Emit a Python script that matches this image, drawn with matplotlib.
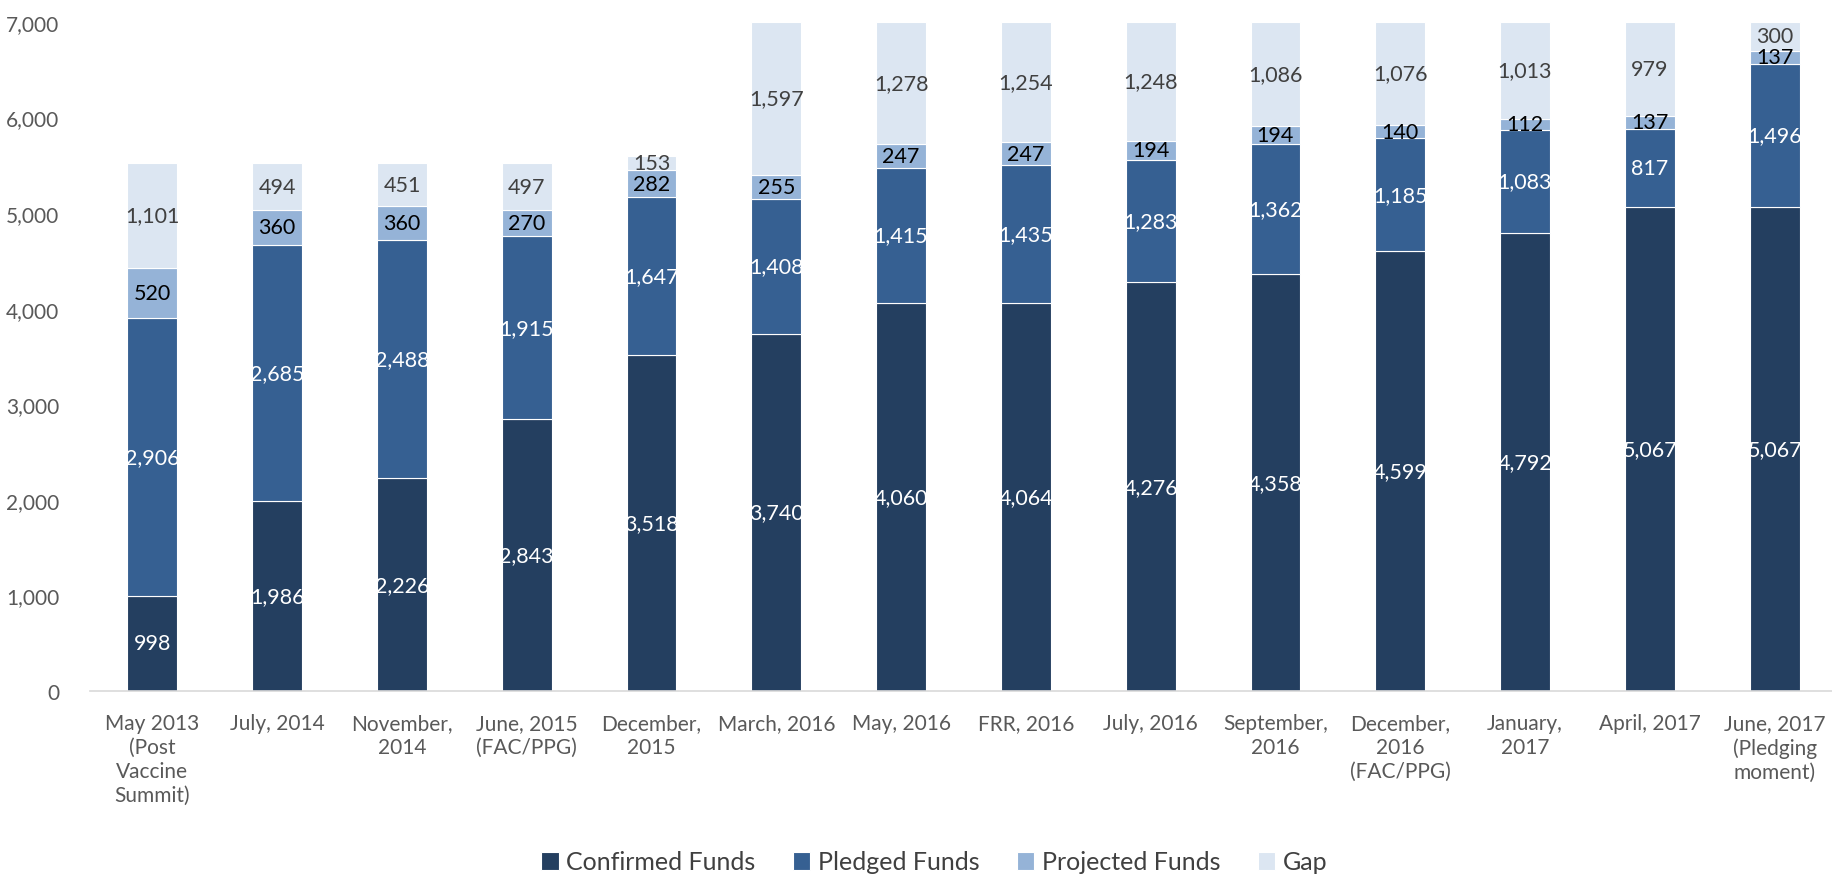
import matplotlib
matplotlib.use("Agg")
import matplotlib.pyplot as plt
import numpy as np

categories = [
    "May 2013\n(Post\nVaccine\nSummit)", "July, 2014", "November,\n2014", "June, 2015\n(FAC/PPG)",
    "December,\n2015", "March, 2016", "May, 2016", "FRR, 2016", "July, 2016", "September,\n2016",
    "December,\n2016\n(FAC/PPG)", "January,\n2017", "April, 2017", "June, 2017\n(Pledging\nmoment)",
]
confirmed = [998, 1986, 2226, 2843, 3518, 3740, 4060, 4064, 4276, 4358, 4599, 4792, 5067, 5067]
pledged = [2906, 2685, 2488, 1915, 1647, 1408, 1415, 1435, 1283, 1362, 1185, 1083, 817, 1496]
projected = [520, 360, 360, 270, 282, 255, 247, 247, 194, 194, 140, 112, 137, 137]
gap = [1101, 494, 451, 497, 153, 1597, 1278, 1254, 1248, 1086, 1076, 1013, 979, 300]

series = [
    ("Confirmed Funds", confirmed, "#243F60", "white"),
    ("Pledged Funds", pledged, "#366092", "white"),
    ("Projected Funds", projected, "#95B3D7", "black"),
    ("Gap", gap, "#DCE6F2", "#404040"),
]

plt.rcParams["font.family"] = ["Lato", "DejaVu Sans"]
fs = 15

fig = plt.figure(figsize=(18.32, 8.79), dpi=100)
ax = fig.add_axes([90 / 1832, 187 / 879, 1747 / 1832, 669 / 879])

x = np.arange(len(categories))
bottom = np.zeros(len(categories))
for name, vals, color, tcolor in series:
    vals = np.array(vals, dtype=float)
    bars = ax.bar(x, vals, width=0.4, bottom=bottom, color=color, label=name,
                  edgecolor="white", linewidth=0.8)
    ax.bar_label(bars, labels=[f"{v:,.0f}" for v in vals], label_type="center",
                 color=tcolor, fontsize=fs + 0.5)
    bottom += vals

ax.set_xlim(-0.5, len(categories) - 0.5)
ax.set_ylim(0, 7000)
ax.set_yticks(np.arange(0, 7001, 1000))
ax.yaxis.set_major_formatter(matplotlib.ticker.FuncFormatter(lambda v, p: f"{v:,.0f}"))
ax.set_xticks(x)
ax.set_xticklabels(categories, fontsize=fs, color="#595959", linespacing=1.25, va="top")
ax.tick_params(axis="y", length=0, labelsize=fs, labelcolor="#595959", pad=22)
ax.tick_params(axis="x", length=0, pad=16)
for s in ["top", "right", "left"]:
    ax.spines[s].set_visible(False)
ax.spines["bottom"].set_color("#D9D9D9")
ax.spines["bottom"].set_linewidth(1.2)

fig.legend(loc="center", bbox_to_anchor=(0.51, 16 / 879), ncol=4, frameon=False,
           fontsize=fs + 3, handlelength=0.7, handleheight=0.7, handletextpad=0.3,
           columnspacing=1.5, labelcolor="#404040", borderpad=0)

fig.savefig("out.png", dpi=100)
